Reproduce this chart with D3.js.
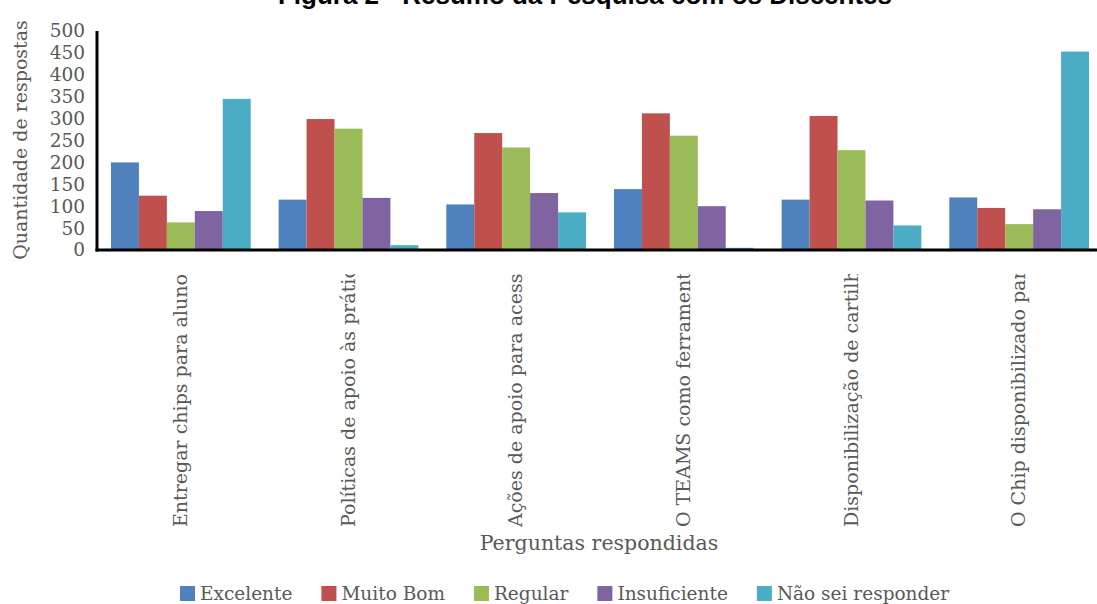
<!DOCTYPE html>
<html>
<head>
<meta charset="utf-8">
<script src="https://cdn.jsdelivr.net/npm/d3@7"></script>
<style>
  body { margin: 0; background: #fff; }
  svg { display: block; }
</style>
</head>
<body>
<div id="chart"></div>
<script>
const categories = [
  "Entregar chips para alunos",
  "Políticas de apoio às práticas",
  "Ações de apoio para acesso",
  "O TEAMS como ferramenta",
  "Disponibilização de cartilhas",
  "O Chip disponibilizado para"
];
const series = ["Excelente", "Muito Bom", "Regular", "Insuficiente", "Não sei responder"];
const excelente = [200, 115, 104, 139, 115, 120];
const muitoBom = [124, 299, 267, 312, 306, 96];
const regular = [63, 277, 234, 261, 228, 59];
const insuficiente = [89, 119, 130, 100, 113, 93];
const naoSei = [345, 11, 86, 5, 56, 453];
const yTicks = [0, 50, 100, 150, 200, 250, 300, 350, 400, 450, 500];

const values = [excelente, muitoBom, regular, insuficiente, naoSei];
const colors = ["#4f81bd", "#c0504d", "#9bbb59", "#8064a2", "#4bacc6"];

const width = 1097;
const height = 604;
const margin = { top: 31, right: -6, bottom: 354, left: 97 };
const serif = "'DejaVu Serif', serif";

const svg = d3.select("#chart")
  .append("svg")
  .attr("width", width)
  .attr("height", height);

const x0 = d3.scaleBand()
  .domain(categories)
  .range([margin.left, width - margin.right]);

const x1 = d3.scaleBand()
  .domain(series)
  .range([0, x0.bandwidth()])
  .paddingOuter(0.5);

const y = d3.scaleLinear()
  .domain([0, 500])
  .range([height - margin.bottom, margin.top]);

const color = d3.scaleOrdinal().domain(series).range(colors);

// title (cut off at the top of the picture, as in the original)
svg.append("text")
  .attr("x", 585)
  .attr("y", 4)
  .attr("text-anchor", "middle")
  .style("font-family", "'Liberation Sans', Arial, sans-serif")
  .style("font-weight", "bold")
  .style("font-size", "26px")
  .text("Figura 2 - Resumo da Pesquisa com os Discentes");

// bars
const rows = categories.map((c, i) => ({ cat: c, vals: series.map((s, j) => ({ s, v: values[j][i] })) }));

svg.append("g")
  .selectAll("g")
  .data(rows)
  .join("g")
  .attr("transform", (d) => `translate(${x0(d.cat)},0)`)
  .selectAll("rect")
  .data((d) => d.vals)
  .join("rect")
  .attr("x", (d) => x1(d.s))
  .attr("y", (d) => y(d.v))
  .attr("width", x1.bandwidth())
  .attr("height", (d) => y(0) - y(d.v))
  .attr("fill", (d) => color(d.s));

// y axis
const yAxis = svg.append("g")
  .attr("transform", `translate(${margin.left},0)`)
  .call(d3.axisLeft(y).tickValues(yTicks).tickSize(0).tickPadding(12));
yAxis.select(".domain").remove();
yAxis.selectAll("text")
  .style("font-family", serif)
  .style("font-size", "18.5px")
  .attr("fill", "#595959");

svg.append("line")
  .attr("x1", margin.left).attr("x2", margin.left)
  .attr("y1", y(500)).attr("y2", y(0) + 1.5)
  .attr("stroke", "#000").attr("stroke-width", 3);

// x axis labels, clipped at the top like the original
svg.append("defs").append("clipPath")
  .attr("id", "lab-clip")
  .append("rect")
  .attr("x", 0).attr("y", 274)
  .attr("width", width).attr("height", 260);

const clipWrap = svg.append("g").attr("clip-path", "url(#lab-clip)");
const xAxis = clipWrap.append("g")
  .attr("transform", `translate(0,${y(0)})`)
  .call(d3.axisBottom(x0).tickSize(0).tickPadding(0));
xAxis.select(".domain").remove();
xAxis.selectAll(".tick text")
  .attr("transform", "rotate(-90)")
  .attr("text-anchor", "start")
  .attr("x", -(527 - y(0)))
  .attr("y", 6)
  .attr("dy", "0")
  .style("font-family", serif)
  .style("font-size", "19px")
  .attr("fill", "#595959");

svg.append("line")
  .attr("x1", margin.left - 1.5).attr("x2", width)
  .attr("y1", y(0)).attr("y2", y(0))
  .attr("stroke", "#000").attr("stroke-width", 3);

// axis titles
svg.append("text")
  .attr("transform", "rotate(-90)")
  .attr("x", -140)
  .attr("y", 27)
  .attr("text-anchor", "middle")
  .style("font-family", serif)
  .style("font-size", "19px")
  .attr("fill", "#595959")
  .text("Quantidade de respostas");

svg.append("text")
  .attr("x", 599)
  .attr("y", 550)
  .attr("text-anchor", "middle")
  .style("font-family", serif)
  .style("font-size", "20.5px")
  .attr("fill", "#595959")
  .text("Perguntas respondidas");

// legend
const legend = svg.append("g").attr("transform", "translate(180,586)");
let lx = 0;
series.forEach((s) => {
  const g = legend.append("g").attr("transform", `translate(${lx},0)`);
  g.append("rect").attr("width", 15).attr("height", 15).attr("fill", color(s));
  const t = g.append("text")
    .attr("x", 20)
    .attr("y", 14)
    .style("font-family", serif)
    .style("font-size", "18.5px")
    .attr("fill", "#595959")
    .text(s);
  lx += 20 + t.node().getComputedTextLength() + 29;
});
</script>
</body>
</html>
